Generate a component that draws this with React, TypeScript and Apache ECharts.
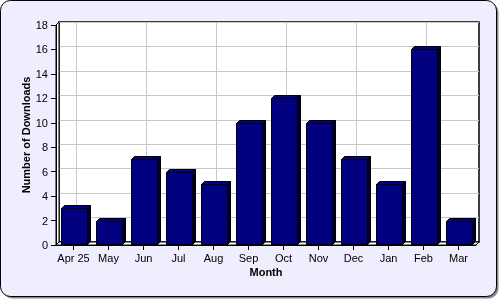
import React, { useEffect, useRef } from "react";
import * as echarts from "echarts";

const months = ["Apr 25", "May", "Jun", "Jul", "Aug", "Sep", "Oct", "Nov", "Dec", "Jan", "Feb", "Mar"];
const downloads = [3, 2, 7, 6, 5, 10, 12, 10, 7, 5, 16, 2];
const yMin = 0;
const yMax = 18;
const yStep = 2;

const FONT = "'Liberation Sans', Arial, sans-serif";

export default function App() {
  const ref = useRef<HTMLDivElement>(null);
  useEffect(() => {
    if (!ref.current) return;
    const chart = echarts.init(ref.current, null, { renderer: "svg" });
    const depth = 3;
    chart.setOption({
      animation: false,
      backgroundColor: "transparent",
      textStyle: { fontFamily: FONT },
      graphic: [
        {
          type: "rect",
          z: -10,
          silent: true,
          shape: { x: 2.5, y: 2.5, width: 496, height: 296, r: 10 },
          style: { fill: "#8a8a8a" },
        },
        {
          type: "rect",
          z: -9,
          silent: true,
          shape: { x: 0.5, y: 0.5, width: 496, height: 296, r: 10 },
          style: { fill: "#EEEEFF", stroke: "#000", lineWidth: 1 },
        },
        {
          type: "polygon",
          z: 1,
          silent: true,
          shape: { points: [[56, 245], [476, 245], [479, 242], [59, 242]] },
          style: { fill: "#fff", stroke: "#000", lineWidth: 1 },
        },
        {
          type: "polygon",
          z: 1,
          silent: true,
          shape: { points: [[56, 25], [59, 22], [59, 242], [56, 245]] },
          style: { fill: "#fff", stroke: "#000", lineWidth: 1 },
        },
      ],
      grid: [
        { left: 56, right: 24, top: 25, bottom: 55, containLabel: false },
        {
          left: 59,
          right: 21,
          top: 22,
          bottom: 58,
          show: true,
          backgroundColor: "#fff",
          borderColor: "#000",
          borderWidth: 1.5,
          z: 0,
        },
      ],
      xAxis: [
        {
          type: "category",
          gridIndex: 0,
          data: months,
          z: 5,
          axisLine: { show: true, lineStyle: { color: "#000", width: 1 } },
          axisTick: { show: true, length: 5, alignWithLabel: true, lineStyle: { color: "#000" } },
          axisLabel: { color: "#000", fontSize: 11, margin: 7, fontFamily: FONT, interval: 0 },
          splitLine: { show: false },
          name: "Month",
          nameLocation: "middle",
          nameGap: 21,
          nameMoveOverlap: false,
          nameTextStyle: { color: "#000", fontSize: 11, fontWeight: "bold", fontFamily: FONT },
        },
        {
          type: "category",
          gridIndex: 1,
          data: months,
          axisLine: { show: false },
          axisTick: { show: false },
          axisLabel: { show: false },
          splitLine: { show: true, alignWithLabel: true, lineStyle: { color: "#c8c8c8", width: 1 } },
        },
      ],
      yAxis: [
        {
          type: "value",
          gridIndex: 0,
          min: yMin,
          max: yMax,
          interval: yStep,
          z: 5,
          axisLine: { show: true, lineStyle: { color: "#000", width: 1 } },
          axisTick: { show: true, length: 5, lineStyle: { color: "#000" } },
          axisLabel: { color: "#000", fontSize: 11, margin: 8, fontFamily: FONT },
          splitLine: { show: false },
          name: "Number of Downloads",
          nameLocation: "middle",
          nameGap: 25,
          nameMoveOverlap: false,
          nameTextStyle: { color: "#000", fontSize: 11, fontWeight: "bold", fontFamily: FONT },
        },
        {
          type: "value",
          gridIndex: 1,
          min: yMin,
          max: yMax,
          interval: yStep,
          axisLine: { show: false },
          axisTick: { show: false },
          axisLabel: { show: false },
          splitLine: { show: true, lineStyle: { color: "#c8c8c8", width: 1 } },
        },
      ],
      series: [
        {
          type: "custom",
          xAxisIndex: 0,
          yAxisIndex: 0,
          z: 3,
          data: downloads.map((v, i) => [i, v]),
          renderItem: (params: any, api: any) => {
            const top = api.coord([api.value(0), api.value(1)]);
            const base = api.coord([api.value(0), 0]);
            const w = api.size([1, 0])[0] * 0.74;
            const x0 = Math.round(top[0] - w / 2) + 0.5;
            const x1 = x0 + Math.round(w);
            const yt = Math.round(top[1]) + 0.5;
            const yb = Math.round(base[1]) - 0.5;
            const d = depth;
            return {
              type: "group",
              children: [
                {
                  type: "polygon",
                  shape: { points: [[x1, yt], [x1 + d, yt - d], [x1 + d, yb - d], [x1, yb]] },
                  style: { fill: "#000030", stroke: "#000", lineWidth: 1 },
                },
                {
                  type: "polygon",
                  shape: { points: [[x0, yt], [x0 + d, yt - d], [x1 + d, yt - d], [x1, yt]] },
                  style: { fill: "#000080", stroke: "#000", lineWidth: 1 },
                },
                {
                  type: "rect",
                  shape: { x: x0, y: yt, width: x1 - x0, height: yb - yt },
                  style: { fill: "#000080", stroke: "#000", lineWidth: 1 },
                },
              ],
            };
          },
        },
      ],
    });
    return () => chart.dispose();
  }, []);
  return (
    <div
      ref={ref}
      style={{ position: "fixed", left: 0, top: 0, width: 500, height: 300 }}
    />
  );
}
